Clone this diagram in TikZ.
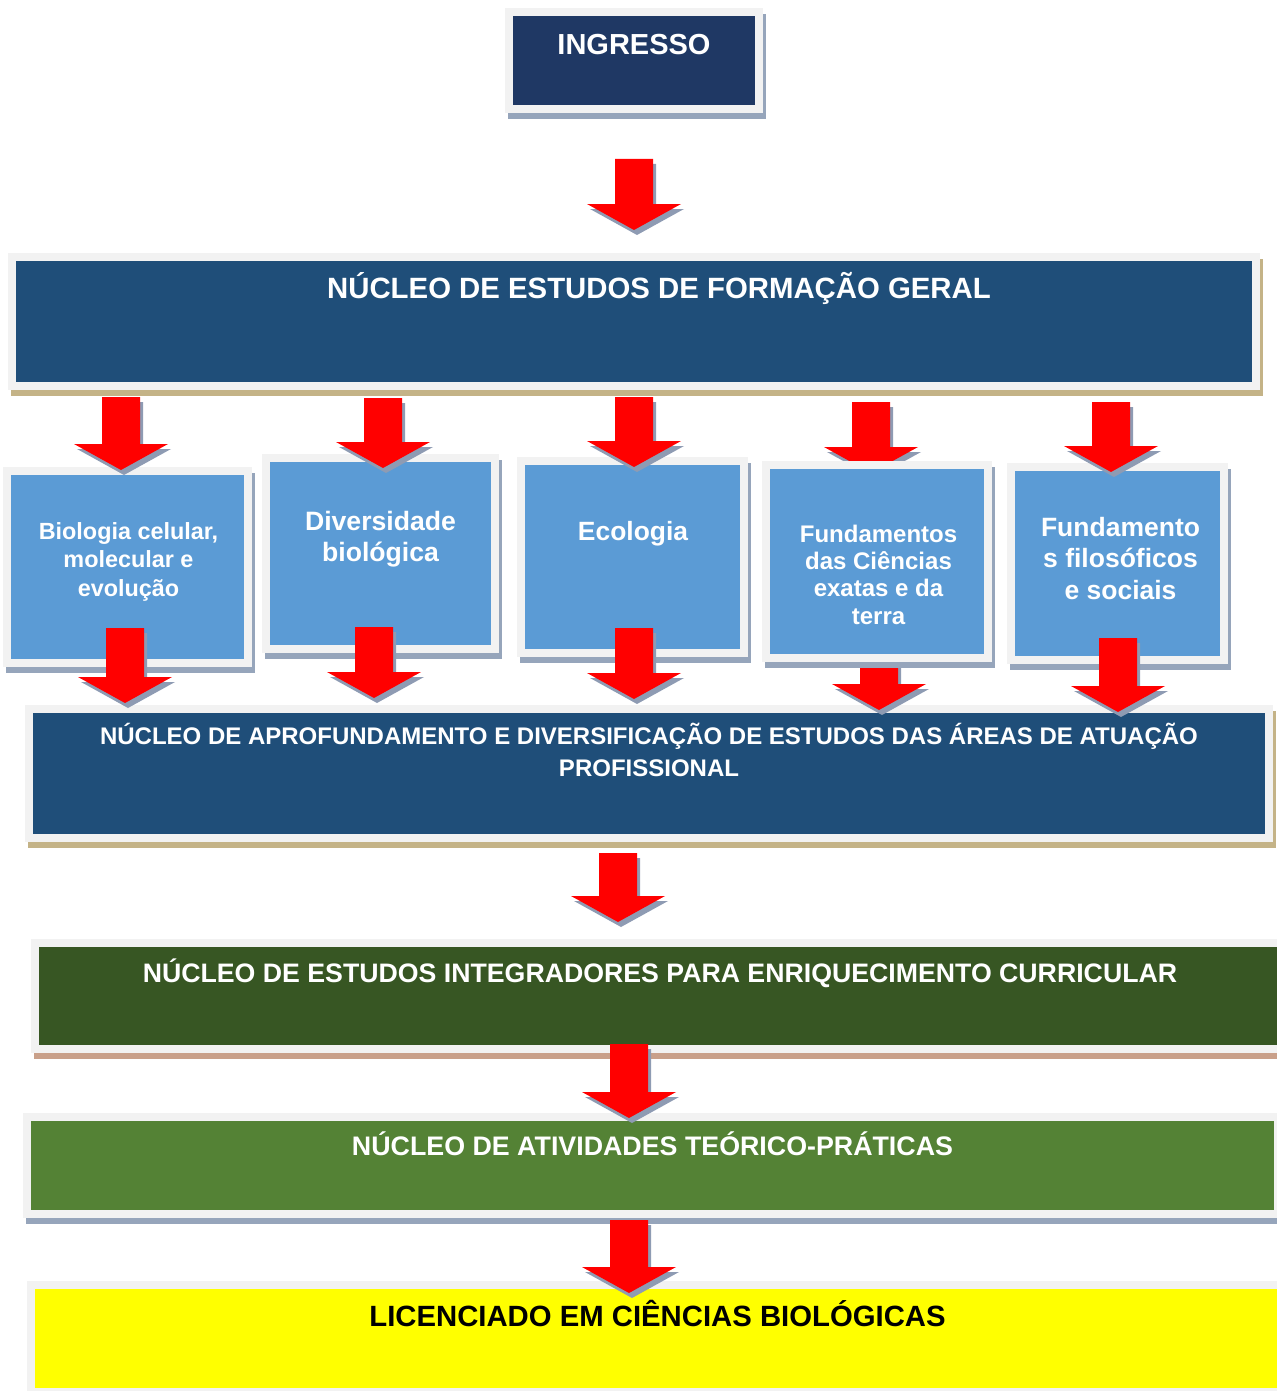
\documentclass[tikz,border=0pt]{standalone}
\usepackage{fontspec}
\setmainfont{Liberation Sans}
\usetikzlibrary{positioning}
\usetikzlibrary{shadows}

\definecolor{frm}{HTML}{F2F2F2}
\definecolor{shdblue}{HTML}{96A5BB}
\definecolor{shdtan}{HTML}{C4B387}
\definecolor{shdrose}{HTML}{C9A08A}
\definecolor{arrshd}{HTML}{8E9BB3}
\definecolor{navy}{HTML}{1F3864}
\definecolor{steel}{HTML}{1F4E79}
\definecolor{sky}{HTML}{5B9BD5}
\definecolor{dkgreen}{HTML}{375623}
\definecolor{leaf}{HTML}{548235}
\definecolor{lemon}{HTML}{FFFF00}

\tikzset{
	box/.style={draw=frm, line width=8pt, fill=#1, inner sep=0pt},
	sz/.style 2 args={minimum width=#1pt, minimum height=#2pt},
	shd/.style={drop shadow={shadow xshift=3pt, shadow yshift=-6pt, draw=#1, fill=#1, opacity=1}},
	lbl/.style 2 args={anchor=base, align=center, inner sep=0pt, text=white,
		font=\bfseries\fontsize{#1}{#2}\selectfont},
	pics/redarrow/.style={code={
		\fill [red, drop shadow={shadow xshift=3pt, shadow yshift=-5pt, fill=arrshd, opacity=1}]
			(-19,0) -- (19,0) -- (19,#1-26) -- (47,#1-26) -- (0,#1) -- (-47,#1-26) -- (-19,#1-26) -- cycle;
	}}
}

\begin{document}
\begin{tikzpicture}[x=1pt, y=-1pt]
	\useasboundingbox (0,0) rectangle (1276,1391);

	% main blocks
	\node [box=navy, shd=shdblue, sz={250}{97}] (ingresso) at (634,60.5) {};
	\node [box=steel, shd=shdtan, sz={1244}{129}] (geral) at (634,321.5) {};
	\node [box=steel, shd=shdtan, sz={1240}{129}] (aprof) at (649,773.5) {};
	\node [box=dkgreen, shd=shdrose, sz={1251}{106}] (integ) at (660,996) {};
	\node [box=leaf, shd=shdblue, sz={1251}{97}] (ativ) at (652.5,1165.5) {};
	\node [box=lemon, sz={1253}{107}] (licenc) at (657.5,1338.5) {};

	% arrows that go under their box
	\pic at (634,159) {redarrow=71};
	\pic at (871,402) {redarrow=71};
	\pic at (879,640) {redarrow=70};

	% areas
	\node [box=sky, shd=shdblue, sz={241}{192}] (bio) at (127.5,567) {};
	\node [box=sky, shd=shdblue, sz={229}{191}] (div) at (380.5,553.5) {};
	\node [box=sky, shd=shdblue, sz={223}{192}] (eco) at (632.5,557) {};
	\node [box=sky, shd=shdblue, sz={222}{193}] (fundc) at (877,561.5) {};
	\node [box=sky, shd=shdblue, sz={213}{193}] (fundf) at (1117.5,563.5) {};

	\pic at (121,397) {redarrow=73};
	\pic at (383,398) {redarrow=70};
	\pic at (634,397) {redarrow=70};
	\pic at (1111,402) {redarrow=70};
	\pic at (125,628) {redarrow=75};
	\pic at (374,627) {redarrow=71};
	\pic at (634,628) {redarrow=71};
	\pic at (1118,638) {redarrow=74};
	\pic at (618,853) {redarrow=69};
	\pic at (629,1044) {redarrow=74};
	\pic at (629,1220) {redarrow=73};

	% texts (base = last line)
	\node [lbl={29}{35}] (t-ingresso) at (634,55) {INGRESSO};
	\node [lbl={29.35}{35}] (t-geral) at (659,298.5) {NÚCLEO DE ESTUDOS DE FORMAÇÃO GERAL};
	\node [lbl={24}{32}] (t-aprof) at (649,776.5)
		{NÚCLEO DE APROFUNDAMENTO E DIVERSIFICAÇÃO DE ESTUDOS DAS ÁREAS DE ATUAÇÃO\\PROFISSIONAL};
	\node [lbl={26.7}{32}] (t-integ) at (660,982.5)
		{NÚCLEO DE ESTUDOS INTEGRADORES PARA ENRIQUECIMENTO CURRICULAR};
	\node [lbl={26.8}{32}] (t-ativ) at (652.5,1155) {NÚCLEO DE ATIVIDADES TEÓRICO-PRÁTICAS};
	\node [lbl={29.3}{34}, text=black] (t-licenc) at (657.5,1326) {LICENCIADO EM CIÊNCIAS BIOLÓGICAS};
	\node [lbl={23.4}{28.5}] (t-bio) at (128.5,596) {Biologia celular,\\molecular e\\evolução};
	\node [lbl={26.6}{31.7}] (t-div) at (380.5,561.7) {Diversidade\\biológica};
	\node [lbl={26.4}{32}] (t-eco) at (633,540.7) {Ecologia};
	\node [lbl={24}{27.3}] (t-fundc) at (878.5,624) {Fundamentos\\das Ciências\\exatas e da\\terra};
	\node [lbl={26.5}{31.5}] (t-fundf) at (1120.5,599) {Fundamento\\s filosóficos\\e sociais};
\end{tikzpicture}
\end{document}
